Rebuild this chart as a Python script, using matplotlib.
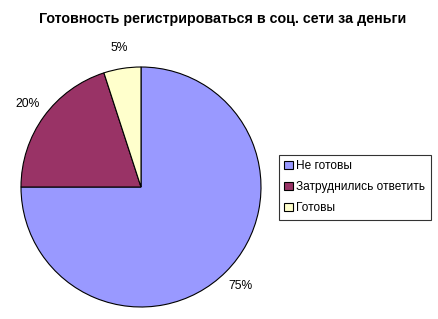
import matplotlib
matplotlib.use("Agg")
import matplotlib.pyplot as plt

plt.rcParams['font.family'] = ['Liberation Sans', 'DejaVu Sans']

title = "Готовность регистрироваться в соц. сети за деньги"
categories = ["Не готовы", "Затруднились ответить", "Готовы"]
shares = [75, 20, 5]
colors = ["#9999FF", "#993366", "#FFFFCC"]

fig = plt.figure(figsize=(4.39, 3.19), dpi=100)
ax = fig.add_axes([21 / 439, 12 / 319, 240 / 439, 240 / 319])

wedges, texts, autotexts = ax.pie(
    shares, colors=colors, startangle=90, counterclock=False,
    autopct="%d%%", pctdistance=1.17, radius=1.0,
    wedgeprops=dict(edgecolor="black", linewidth=0.8),
    textprops=dict(fontsize=8.7),
)
ax.set_xlim(-1, 1)
ax.set_ylim(-1, 1)
ax.set_aspect("equal")

fig.text(223 / 439, 1 - 19 / 319, title, ha="center", va="center",
         fontsize=10.3, fontweight="bold")

leg = fig.legend(wedges, categories, loc="upper left",
                 bbox_to_anchor=(279 / 439, 1 - 155 / 319),
                 fontsize=8.6, frameon=True, fancybox=False,
                 edgecolor="black", handlelength=0.7, handleheight=0.7,
                 handletextpad=0.3, borderpad=0.45, labelspacing=0.75,
                 borderaxespad=0)
leg.get_frame().set_linewidth(0.8)

fig.savefig("out.png", dpi=100)
